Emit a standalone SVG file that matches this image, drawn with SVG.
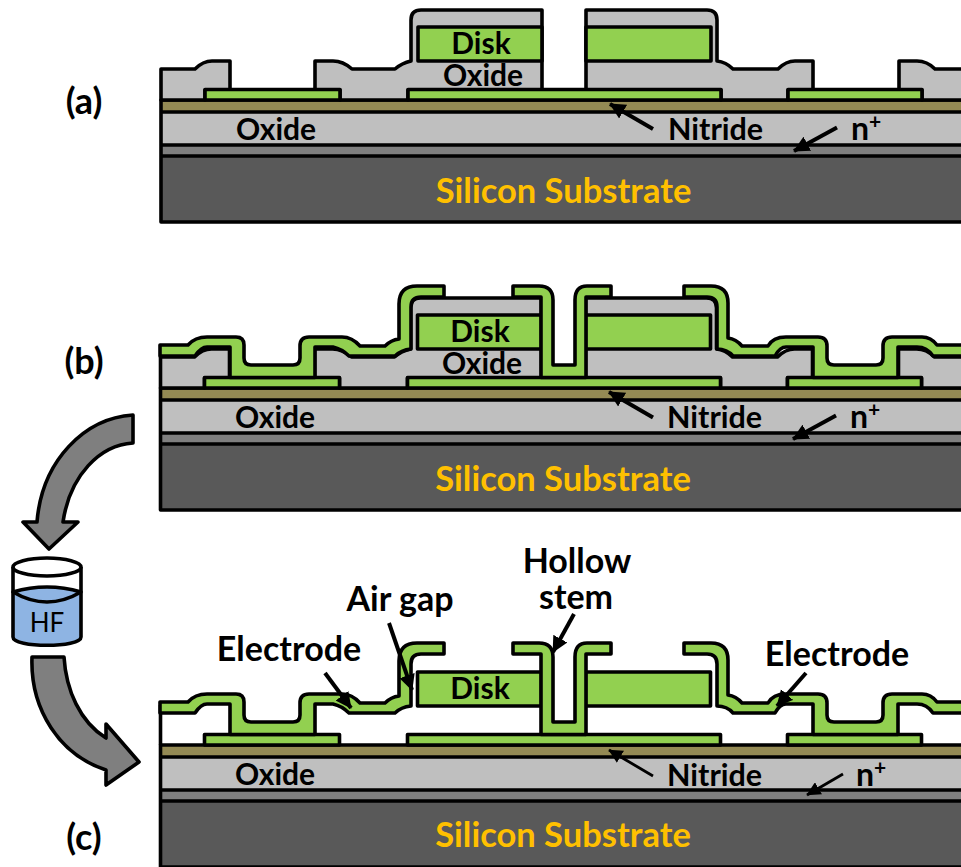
<svg xmlns="http://www.w3.org/2000/svg" width="961" height="867" viewBox="0 0 961 867">
<style>
.k{stroke:#000;stroke-width:3.6;stroke-linejoin:round}
.ox{fill:#bfbfbf}.gr{fill:#92d050}
.t{font-family:"Lato","Open Sans",sans-serif;font-weight:700;font-size:30px;fill:#000}
.l{font-size:34px}
.s{font-size:34.500px}
.p{font-size:36px}
.m{text-anchor:middle}
.y{fill:#ffc000}
.a{stroke:#000;stroke-width:4;fill:none}
.a2{stroke:#000;stroke-width:2.8;fill:none}
.big{fill:#7f7f7f;stroke:#000;stroke-width:3.6;stroke-linejoin:round}
.b{stroke:#000;stroke-width:3.6;stroke-linejoin:round}
</style>
<defs>
<g id="base">
<rect x="161" y="100" width="810" height="12" fill="#948a54"/>
<rect x="161" y="112" width="810" height="33" class="ox"/>
<rect x="161" y="145" width="810" height="11" fill="#7f7f7f"/>
<rect x="161" y="156" width="810" height="66" fill="#595959"/>
<path class="k" fill="none" d="M971 100H161V222H971M161 112H971M161 145H971M161 156H971"/>
</g>
<g id="pads">
<path class="k gr" d="M205 100V89.500H340V100Z"/>
<path class="k gr" d="M408 100V89.500H721V100Z"/>
<path class="k gr" d="M788 100V89.500H922V100Z"/>
</g>
<g id="oxide">
<path class="k ox" d="M161 100V69H195Q203 61 212 61H230V90H205V100Z"/>
<path class="k ox" d="M340 100V90H315V61H333Q343 61 352 69H395Q402 63 411 61V20Q411 10 421 10H542V90H408V100Z"/>
<path class="k ox" d="M586 90V10H707Q717 10 717 20V61Q726 62 733 69H778Q786 61 795 61H813V90H788V100H721V90Z"/>
<path class="k ox" d="M971 69H935Q927 61 917 61H899V90H922V100H971Z"/>
</g>
<g id="disks">
<path class="k gr" d="M418 27H542V61H418Z"/>
<path class="k gr" d="M586 27H711V61H586Z"/>
</g>
<g id="film">
<path class="k gr" d="M160 345H188Q195 337 207 337H236Q244 337 244 345V358Q244 365 251 365H293Q300 365 300 358V346Q300 337 309 337H342Q352 337 360 346H385Q391 340 399 339V304Q399 286 417 286H444V297H421Q411 297 411 307V349Q401 350 395 356H349Q342 349 333 347H315V377.500H230V347H207Q201 347 195 356H160Z"/>
<path class="k gr" d="M513 286H539Q553 286 553 300V365H575V300Q575 286 587 286H611V297H586V377.500H541V297H513Z"/>
<path class="k gr" d="M684 286H711Q728 286 728 303V338Q736 339 742 346H768Q773 337 786 337H818Q827 337 827 346V358Q827 365 834 365H876Q883 365 883 358V346Q883 337 892 337H922Q931 337 937 345H971V356H933Q927 347 917 347H898V377.500H813V347H786Q780 347 775 356H733Q727 349 717 349V307Q717 297 707 297H684Z"/>
</g>
<marker id="h" viewBox="0 0 10 10" refX="9.500" refY="5" markerWidth="4" markerHeight="4.200" orient="auto" markerUnits="strokeWidth"><path d="M0 0L10 5L0 10Z" fill="#000"/></marker>
<marker id="h2" viewBox="0 0 10 10" refX="9.500" refY="5" markerWidth="5" markerHeight="5" orient="auto" markerUnits="strokeWidth"><path d="M0 0L10 5L0 10Z" fill="#000"/></marker>
</defs>

<g id="panel-a">
<use href="#base"/><use href="#oxide"/><use href="#disks"/><use href="#pads"/>
<text class="t m" x="481" y="54">Disk</text>
<text class="t m" x="483" y="86">Oxide</text>
<text class="t m" x="276" y="140">Oxide</text>
<text class="t" x="668" y="140" style="font-size:30.500px">Nitride</text>
<text class="t" x="851" y="140" style="font-size:32px">n<tspan font-size="21" dy="-11">+</tspan></text>
<text class="t s m y" x="563.500" y="203">Silicon Substrate</text>
<text class="t p m" x="84" y="114">(a)</text>
</g>

<g id="panel-b">
<g transform="translate(-0.5,288)"><use href="#base"/><use href="#oxide"/><use href="#disks"/><use href="#pads"/></g>
<use href="#film"/>
<text class="t m" x="480" y="342">Disk</text>
<text class="t m" x="482" y="374">Oxide</text>
<text class="t m" x="275" y="428">Oxide</text>
<text class="t" x="667" y="428" style="font-size:30.500px">Nitride</text>
<text class="t" x="850" y="428" style="font-size:32px">n<tspan font-size="21" dy="-11">+</tspan></text>
<text class="t s m y" x="563" y="491">Silicon Substrate</text>
<text class="t p m" x="84" y="374">(b)</text>
</g>

<g id="panel-c">
<g transform="translate(-0.5,645)"><use href="#base"/><use href="#disks"/><use href="#pads"/></g>
<path class="k" d="M160.500 705V745" fill="none"/>
<g transform="translate(0,357)"><use href="#film"/></g>
<text class="t m" x="480" y="699">Disk</text>
<text class="t m" x="275" y="785">Oxide</text>
<text class="t" x="667" y="786" style="font-size:30.500px">Nitride</text>
<text class="t" x="856" y="786" style="font-size:32px">n<tspan font-size="21" dy="-11">+</tspan></text>
<text class="t s m y" x="563" y="847">Silicon Substrate</text>
<text class="t p m" x="84" y="850">(c)</text>
<text class="t l m" x="289" y="661">Electrode</text>
<text class="t l m" x="400" y="611">Air gap</text>
<text class="t l m" x="577" y="573">Hollow</text>
<text class="t l m" x="576" y="609">stem</text>
<text class="t l m" x="837" y="666">Electrode</text>
</g>

<g id="connectors">
<path class="a" marker-end="url(#h)" d="M653 129L610 104"/>
<path class="a" marker-end="url(#h)" d="M837 127.500L794 151"/>
<path class="a" marker-end="url(#h)" d="M653 417.500L609 392"/>
<path class="a" marker-end="url(#h)" d="M836 415.500L793 439"/>
<path class="a2" marker-end="url(#h2)" d="M653 776L609 750"/>
<path class="a2" marker-end="url(#h2)" d="M843 774L807 795"/>
<path class="a" marker-end="url(#h)" d="M325 673L351 708"/>
<path class="a" marker-end="url(#h)" d="M389 623L412 690"/>
<path class="a" marker-end="url(#h)" d="M574 614L553 652"/>
<path class="a" marker-end="url(#h)" d="M806 673L777 706"/>
<path class="big" d="M133 415V443C100 445 70 475 63 522H78L49 549L23 522H37C42 460 85 418 133 415Z"/>
<path class="big" d="M32 657H64C66 690 80 722 106 738V724L139 762L106 785V770C60 755 30 710 32 657Z"/>
</g>

<g id="beaker">
<path d="M13 592H81V637C81 648 13 648 13 637Z" fill="#8eb4e3"/>
<path class="b" d="M13 567V637C13 648 81 648 81 637V567" fill="none"/>
<ellipse class="b" cx="47" cy="567" rx="34" ry="9" fill="#fff"/>
<path class="b" d="M13 592Q47 582 81 592Q47 612 13 592Z" fill="#8eb4e3"/>
<text x="47" y="632" text-anchor="middle" font-family="Lato,'Open Sans',sans-serif" font-size="26">HF</text>
</g>
</svg>
